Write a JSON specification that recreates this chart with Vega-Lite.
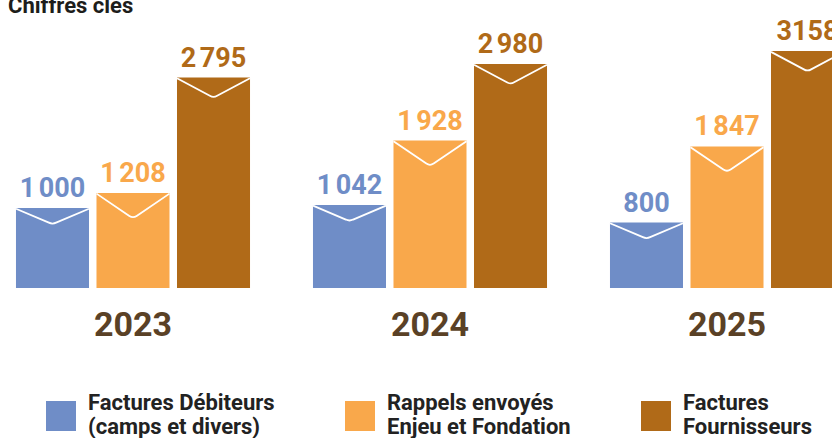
{
  "$schema": "https://vega.github.io/schema/vega-lite/v6.json",
  "width": 832,
  "height": 268,
  "autosize": {"type": "none"},
  "padding": {"left": 0, "top": 20, "right": 0, "bottom": 150},
  "background": "white",
  "title": {"text": "Chiffres clés", "anchor": "start", "frame": "group", "offset": -17, "fontSize": 22, "font": "Roboto", "fontWeight": "bold", "color": "#1d1d1b", "dx": 8, "baseline": "alphabetic"},
  "config": {"view": {"stroke": null}},
  "data": {"values": [
    {"year": "2023", "series": "Factures Débiteurs|(camps et divers)", "value": 1000, "label": "1\u202f000"},
    {"year": "2023", "series": "Rappels envoyés|Enjeu et Fondation", "value": 1208, "label": "1\u202f208"},
    {"year": "2023", "series": "Factures|Fournisseurs", "value": 2795, "label": "2\u202f795"},
    {"year": "2024", "series": "Factures Débiteurs|(camps et divers)", "value": 1042, "label": "1\u202f042"},
    {"year": "2024", "series": "Rappels envoyés|Enjeu et Fondation", "value": 1928, "label": "1\u202f928"},
    {"year": "2024", "series": "Factures|Fournisseurs", "value": 2980, "label": "2\u202f980"},
    {"year": "2025", "series": "Factures Débiteurs|(camps et divers)", "value": 800, "label": "800"},
    {"year": "2025", "series": "Rappels envoyés|Enjeu et Fondation", "value": 1847, "label": "1\u202f847"},
    {"year": "2025", "series": "Factures|Fournisseurs", "value": 3158, "label": "3158"}
  ]},
  "encoding": {
    "x": {"field": "year", "type": "nominal", "scale": {"range": [-15.5, 875.5], "paddingInner": 0, "paddingOuter": 0},
      "axis": {"title": null, "domain": false, "ticks": false, "tickSize": 0, "labelAngle": 0, "labelPadding": 20, "labelFont": "Roboto", "labelFontWeight": "bold", "labelFontSize": 34, "labelColor": "#5a4126", "grid": false}},
    "xOffset": {"field": "series", "type": "nominal", "sort": ["Factures Débiteurs|(camps et divers)", "Rappels envoyés|Enjeu et Fondation", "Factures|Fournisseurs"], "scale": {"domain": ["Factures Débiteurs|(camps et divers)", "Rappels envoyés|Enjeu et Fondation", "Factures|Fournisseurs"], "paddingInner": 0.093, "paddingOuter": 0.391}},
    "y": {"field": "value", "type": "quantitative", "scale": {"domain": [-100, 3586], "zero": false, "nice": false}, "axis": null}
  },
  "layer": [
    {
      "mark": {"type": "bar"},
      "encoding": {
        "y2": {"datum": -100},
        "color": {"field": "series", "type": "nominal",
          "scale": {"domain": ["Factures Débiteurs|(camps et divers)", "Rappels envoyés|Enjeu et Fondation", "Factures|Fournisseurs"], "range": ["#6f8dc7", "#f9a84b", "#b06a18"]},
          "legend": {"title": null, "orient": "none", "legendX": 46, "legendY": 381, "direction": "horizontal", "columns": 3, "columnPadding": 70, "padding": 0,
            "symbolType": "square", "symbolSize": 900, "symbolStrokeWidth": 0, "symbolOpacity": 1, "labelOffset": 12, "labelLimit": 400,
            "labelExpr": "split(datum.label, '|')", "labelFont": "Roboto", "labelFontWeight": "bold", "labelFontSize": 22, "labelColor": "#222222", "labelBaseline": "middle",
            "encode": {
              "labels": {"update": {"lineHeight": {"value": 24}, "dy": {"value": -13}}}
            }}}
      }
    },
    {
      "transform": [{"filter": "datum.series === 'Factures Débiteurs|(camps et divers)'"}],
      "mark": {"type": "point", "filled": false, "stroke": "white", "strokeWidth": 1.8, "opacity": 1, "size": 5329, "shape": "M-1,0.02 L-0.1,0.4 Q0,0.45 0.1,0.4 L1,0.02"},
      "encoding": {}
    },
    {
      "transform": [{"filter": "datum.series === 'Rappels envoyés|Enjeu et Fondation'"}],
      "mark": {"type": "point", "filled": false, "stroke": "white", "strokeWidth": 1.8, "opacity": 1, "size": 5329, "shape": "M-1,0.02 L-0.1,0.63 Q0,0.7 0.1,0.63 L1,0.02"},
      "encoding": {}
    },
    {
      "transform": [{"filter": "datum.series === 'Factures|Fournisseurs'"}],
      "mark": {"type": "point", "filled": false, "stroke": "white", "strokeWidth": 1.8, "opacity": 1, "size": 5329, "shape": "M-1,0.02 L-0.1,0.5 Q0,0.56 0.1,0.5 L1,0.02"},
      "encoding": {}
    },
    {
      "mark": {"type": "text", "dy": -11, "baseline": "alphabetic", "align": "center", "font": "Roboto", "fontWeight": "bold", "fontSize": 27},
      "encoding": {
        "text": {"field": "label"},
        "color": {"field": "series", "type": "nominal", "legend": null}
      }
    }
  ]
}
